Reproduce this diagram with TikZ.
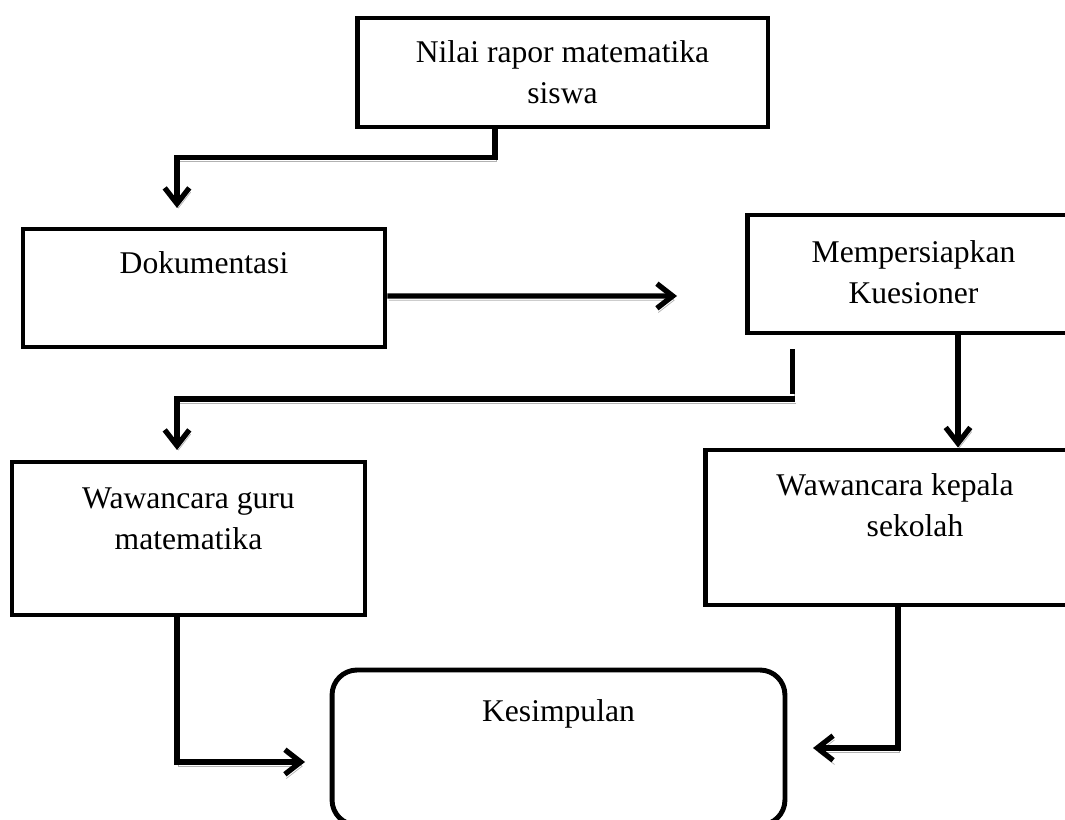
\documentclass[tikz,border=0pt]{standalone}
\usepackage{fontspec}
\setmainfont{Liberation Serif}
\usetikzlibrary{positioning, arrows.meta}

\begin{document}
\begin{tikzpicture}[x=0.02cm, y=-0.02cm,
	box/.style={draw, line width=2.8pt, inner sep=0pt},
	txt/.style={font=\fontsize{18pt}{23.3pt}\selectfont, align=center, inner sep=0pt},
	conn/.style={line width=3pt, -{Straight Barb[length=9pt, width=14pt]},
		preaction={draw=gray!60, transform canvas={xshift=0.8pt, yshift=-2.4pt}}}]

			\useasboundingbox (0,0) rectangle (1065,820);
			\clip (0,0) rectangle (1065,820);

			\node [box, minimum width=8.22cm, minimum height=2.18cm] (nilai) at (562.5,72.5) {};
			\node [box, minimum width=7.24cm, minimum height=2.36cm] (doku) at (204,288) {};
			\node [box, minimum width=6.66cm, minimum height=2.36cm] (siap) at (913.5,274) {};
			\node [box, minimum width=7.06cm, minimum height=3.06cm] (guru) at (188.5,538.5) {};
			\node [box, minimum width=7.5cm, minimum height=3.1cm] (kepala) at (892.5,527.5) {};
			\node [box, rounded corners=0.5cm, minimum width=9.06cm, minimum height=3.1cm] (simpul) at (558.5,747.5) {};

			\node [txt] (nilaiT) [below=0.5cm of nilai.north] {Nilai rapor matematika\\siswa};
			\node [txt] (dokuT) [below=0.5cm of doku.north] {Dokumentasi};
			\node [txt] (siapT) [below=0.55cm of siap.north] {Mempersiapkan\\Kuesioner};
			\node [txt] (guruT) [below=0.55cm of guru.north] {Wawancara guru\\matematika};
			\node [txt] (kepalaT) [below=0.52cm of kepala.north, xshift=0.05cm] {Wawancara kepala\\\hspace*{0.8cm}sekolah};
			\node [txt] (simpulT) [below=0.64cm of simpul.north] {Kesimpulan};

			\coordinate (dokuIn) at (177,208);
			\coordinate (siapIn) at (677,296);
			\coordinate (putus) at (795,399);
			\coordinate (guruIn) at (177,450);
			\coordinate (kepalaOut) at ([xshift=0.89cm]siap.south);
			\coordinate (simpulL) at (305,762);
			\coordinate (simpulR) at (813,748);

			\draw [conn] ([xshift=-1.35cm]nilai.south) -- ++(0,28) -| (dokuIn);
			\draw [conn] ([yshift=-0.16cm]doku.east) -- (siapIn);
			\draw [conn, -] ([shift={(48,14)}]siap.south west) -- ++(0,45);
			\draw [conn] (putus) -| (guruIn);
			\draw [conn] (kepalaOut) -- (kepalaOut |- kepala.north);
			\draw [conn] ([xshift=-0.23cm]guru.south) |- (simpulL);
			\draw [conn] ([xshift=0.11cm]kepala.south) |- (simpulR);

\end{tikzpicture}
\end{document}
